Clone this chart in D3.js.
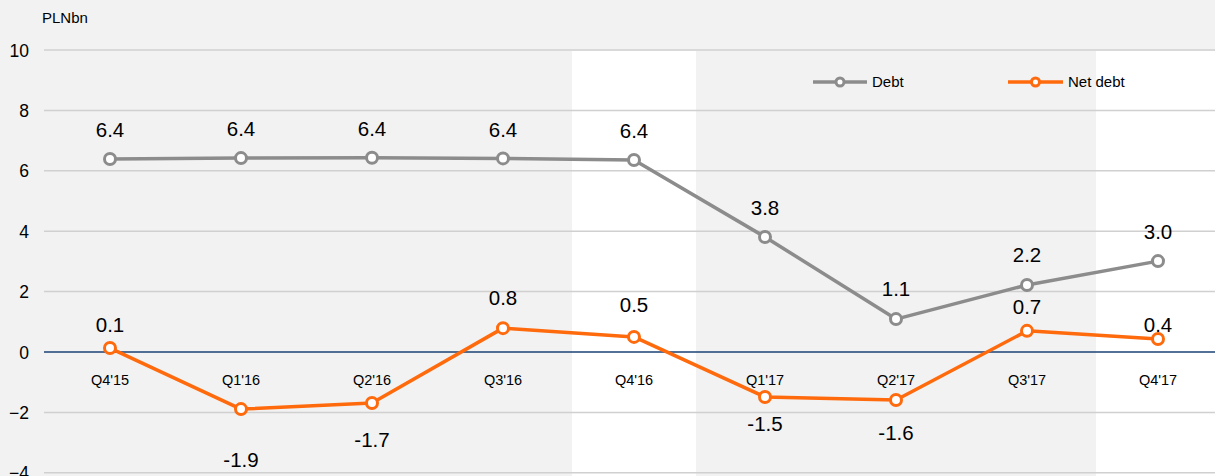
<!DOCTYPE html>
<html><head><meta charset="utf-8">
<script src="https://cdn.jsdelivr.net/npm/d3@7"></script>
<style>
html,body{margin:0;padding:0;background:#f2f2f2;}
svg{display:block;font-family:"Liberation Sans",Arial,sans-serif;}
</style></head>
<body>
<svg id="chart" width="1215" height="476"></svg>
<script>
const categories = ["Q4'15","Q1'16","Q2'16","Q3'16","Q4'16","Q1'17","Q2'17","Q3'17","Q4'17"];
const debt =    [6.39, 6.42, 6.43, 6.41, 6.36, 3.81, 1.09, 2.22, 3.01];
const netDebt = [0.13, -1.89, -1.69, 0.79, 0.50, -1.49, -1.59, 0.70, 0.43];
const debtLabels =    ["6.4","6.4","6.4","6.4","6.4","3.8","1.1","2.2","3.0"];
const netDebtLabels = ["0.1","-1.9","-1.7","0.8","0.5","-1.5","-1.6","0.7","0.4"];
const yTicks = [-4,-2,0,2,4,6,8,10];
const highlighted = ["Q4'16","Q4'17"];
const unitLabel = "PLNbn";

// label offsets (style, px relative to marker centre)
const debtLabelDy = [-29,-29,-29,-29,-29,-29,-30,-30,-29];
const netLabelDy = [-23, 51, 37, -30, -32, 27, 33, -24, -14];

const W = 1215, H = 476;
const svg = d3.select("#chart");
const x = d3.scaleBand().domain(categories).range([44.5, 44.5 + 131*9]);
const y = d3.scaleLinear().domain([-4, 10]).range([472.8, 50]);
const cx = d => x(d) + x.bandwidth()/2;

svg.append("rect").attr("width", W).attr("height", H).attr("fill", "#f2f2f2");

// highlighted white bands
svg.selectAll("rect.band").data(highlighted).enter().append("rect")
  .attr("class","band")
  .attr("x", d => cx(d) - 62)
  .attr("width", 124)
  .attr("y", y(10) + 1)
  .attr("height", H - y(10))
  .attr("fill", "#ffffff");

// gridlines
svg.selectAll("line.grid").data(yTicks.filter(t => t !== 0)).enter().append("line")
  .attr("x1", 44).attr("x2", W)
  .attr("y1", d => y(d)).attr("y2", d => y(d))
  .attr("stroke", "#d0d0d0").attr("stroke-width", 1.5);

// y axis labels
const yAxis = d3.axisLeft(y).tickValues(yTicks).tickSize(0).tickPadding(0).tickFormat(d3.format("d"));
const ya = svg.append("g").attr("transform", "translate(29,0)").call(yAxis);
ya.select(".domain").remove();
ya.selectAll("text").attr("font-size", 17.5).attr("fill", "#000")
  .attr("font-family", "'Liberation Sans',Arial,sans-serif").attr("dy", "0.35em");

// zero line
svg.append("line").attr("x1", 44).attr("x2", W).attr("y1", y(0)).attr("y2", y(0))
  .attr("stroke", "#1a4173").attr("stroke-width", 1.5);

// x category labels
const xAxis = d3.axisBottom(x).tickSize(0).tickPadding(0);
const xa = svg.append("g").attr("transform", `translate(0,${y(0)})`).call(xAxis);
xa.select(".domain").remove();
xa.selectAll("text").attr("font-size", 14.5).attr("fill", "#000").attr("y", 28).attr("dy", "0.35em")
  .attr("font-family", "'Liberation Sans',Arial,sans-serif");

// unit label
svg.append("text").attr("x", 42).attr("y", 22.5).attr("font-size", 15).text(unitLabel);

const seriesList = [
  {name: "Debt", values: debt, labels: debtLabels, dy: debtLabelDy, color: "#8c8c8c"},
  {name: "Net debt", values: netDebt, labels: netDebtLabels, dy: netLabelDy, color: "#ff6a0d"}
];

const line = d3.line().x((d, i) => cx(categories[i])).y(d => y(d));

seriesList.forEach(s => {
  const g = svg.append("g");
  g.append("path").datum(s.values).attr("d", line)
    .attr("fill", "none").attr("stroke", s.color).attr("stroke-width", 3.5)
    .attr("stroke-linejoin", "round");
  g.selectAll("circle").data(s.values).enter().append("circle")
    .attr("cx", (d, i) => cx(categories[i])).attr("cy", d => y(d)).attr("r", 5.5)
    .attr("fill", "#fff").attr("stroke", s.color).attr("stroke-width", 3);
  g.selectAll("text").data(s.values).enter().append("text")
    .attr("x", (d, i) => cx(categories[i]))
    .attr("y", (d, i) => y(d) + s.dy[i])
    .attr("dy", "0.35em")
    .attr("text-anchor", "middle").attr("font-size", 20.5).attr("fill", "#000")
    .text((d, i) => s.labels[i]);
});

// legend
const legendPos = [{x0: 813, x1: 867}, {x0: 1008, x1: 1063}];
seriesList.forEach((s, i) => {
  const p = legendPos[i];
  const ly = 82;
  svg.append("line").attr("x1", p.x0).attr("x2", p.x1).attr("y1", ly).attr("y2", ly)
    .attr("stroke", s.color).attr("stroke-width", 3.5);
  svg.append("circle").attr("cx", (p.x0 + p.x1)/2).attr("cy", ly).attr("r", 4)
    .attr("fill", "#fff").attr("stroke", s.color).attr("stroke-width", 3);
  svg.append("text").attr("x", p.x1 + 5).attr("y", ly).attr("dy", "0.35em")
    .attr("font-size", 15).attr("fill", "#000").text(s.name);
});
</script>
</body></html>
